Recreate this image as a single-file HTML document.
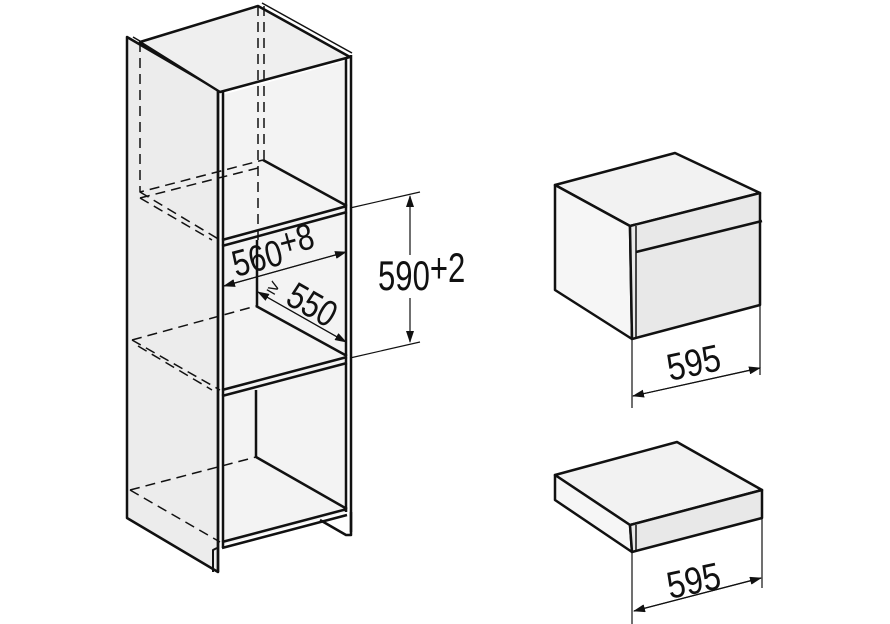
<!DOCTYPE html>
<html><head><meta charset="utf-8"><style>
html,body{margin:0;padding:0;background:#fff;width:890px;height:624px;overflow:hidden}
text{font-family:"Liberation Sans",sans-serif;fill:#111}
</style></head><body>
<svg width="890" height="624" viewBox="0 0 890 624" xmlns="http://www.w3.org/2000/svg">
<defs>
<marker id="a" markerWidth="12" markerHeight="8" refX="11" refY="4" orient="auto" markerUnits="userSpaceOnUse"><path d="M0,0 L12,4 L0,8 Z" fill="#111"/></marker>
</defs>
<g stroke="#111" fill="none" stroke-linejoin="round">
<path d="M127,37 L218,90 L218,572 L127,518 Z" fill="#ececec" stroke-width="2.5"/>
<path d="M133,37 L222,89" stroke-width="1.5"/>
<path d="M140,42 L258,6 L350,57 L220,92 Z" fill="#efefef" stroke-width="2.5"/>
<path d="M262,3 L352,53" stroke-width="1.5"/>
<path d="M222,95 L346,61 L346,512 L222,545 Z" fill="#f3f3f3" stroke="none"/>
<path d="M263,160 L347,206" stroke-width="2.5"/>
<path d="M222,240 L347,206 M222,246 L347,212" stroke-width="2.5"/>
<path d="M256,306 L347,356" stroke-width="2.5"/>
<path d="M222,390 L347,357 M222,396 L347,363" stroke-width="2.5"/>
<path d="M256,457 L347,509" stroke-width="2.5"/>
<path d="M222,542 L347,509 M222,548 L347,515" stroke-width="2.5"/>
<path d="M257,240 L257,306 M256,390 L256,457" stroke-width="2.5"/>
<path d="M258,6 L258,240 M264,6 L264,160" stroke-width="1.5" stroke-dasharray="10,6"/>
<path d="M140,42 L140,192 L263,160 M140,198 L258,168 M140,192 L220,240 M140,198 L212,240" stroke-width="1.5" stroke-dasharray="10,6"/>
<path d="M132,340 L256,306 M132,340 L220,390 M138,346 L212,390" stroke-width="1.5" stroke-dasharray="10,6"/>
<path d="M130,490 L256,457 M130,490 L220,542" stroke-width="1.5" stroke-dasharray="10,6"/>
<path d="M218,90 L218,572 M223,92 L223,548" stroke-width="2.5"/>
<path d="M346,58 L346,512 M351,55 L351,532" stroke-width="2.5"/>
<path d="M217,548 L213,550 L213,572" stroke-width="2"/>
<path d="M351,512 L351,535 L346,535 L320,520" stroke-width="2.5"/>
<path d="M350,208 L420,192 M350,358 L420,342" stroke-width="1.2"/>
<path d="M410,255 L410,196" stroke-width="1.2" marker-end="url(#a)"/>
<path d="M410,298 L410,342" stroke-width="1.2" marker-end="url(#a)"/>
<path d="M346,252 L224,286" stroke-width="1.2" marker-end="url(#a)"/>
<path d="M224,286 L346,252" stroke-width="1.2" marker-end="url(#a)"/>
<path d="M346,342 L258,292" stroke-width="1.2" marker-end="url(#a)"/>
<path d="M258,292 L346,342" stroke-width="1.2" marker-end="url(#a)"/>
</g>
<rect x="376" y="256" width="70" height="40" fill="#fff"/>
<text transform="translate(378,290) scale(0.74,1)" font-size="42">590<tspan dy="-8">+2</tspan></text>
<text transform="translate(236,277) rotate(-15) scale(0.82,1)" font-size="37">560<tspan dy="-8">+8</tspan></text>
<text transform="translate(266,290) rotate(30)" font-size="19">≥</text>
<text transform="translate(284,303) rotate(30) scale(0.82,1)" font-size="37">550</text>
<g stroke="#111" fill="none" stroke-linejoin="round">
<path d="M555,185 L675,153 L760,193 L630,226 Z" fill="#f2f2f2" stroke-width="2.5"/>
<path d="M555,185 L630,226 L632,339 L555,290 Z" fill="#f6f6f6" stroke-width="2.5"/>
<path d="M630,226 L760,193 L760,305 L632,339 Z" fill="#e8e8e8" stroke-width="2.5"/>
<path d="M636,226 L636,339" stroke-width="1.5"/>
<path d="M636,252 L762,221" stroke-width="2.5"/>
<path d="M632,339 L632,408 M760,305 L760,375" stroke-width="1.2"/>
<path d="M633,396 L760,368" stroke-width="1.2" marker-end="url(#a)"/>
<path d="M760,368 L633,396" stroke-width="1.2" marker-end="url(#a)"/>
<path d="M555,475 L677,442 L762,490 L630,525 Z" fill="#f2f2f2" stroke-width="2.5"/>
<path d="M555,475 L630,525 L632,552 L555,500 Z" fill="#f6f6f6" stroke-width="2.5"/>
<path d="M630,525 L762,490 L762,518 L632,552 Z" fill="#e8e8e8" stroke-width="2.5"/>
<path d="M636,525 L636,552" stroke-width="1.5"/>
<path d="M632,552 L632,624 M762,518 L762,588" stroke-width="1.2"/>
<path d="M634,611 L761,578" stroke-width="1.2" marker-end="url(#a)"/>
<path d="M761,578 L634,611" stroke-width="1.2" marker-end="url(#a)"/>
</g>
<text transform="translate(670,381) rotate(-12) scale(0.85,1)" font-size="38">595</text>
<text transform="translate(670,599) rotate(-12) scale(0.85,1)" font-size="38">595</text>
</svg>
</body></html>
